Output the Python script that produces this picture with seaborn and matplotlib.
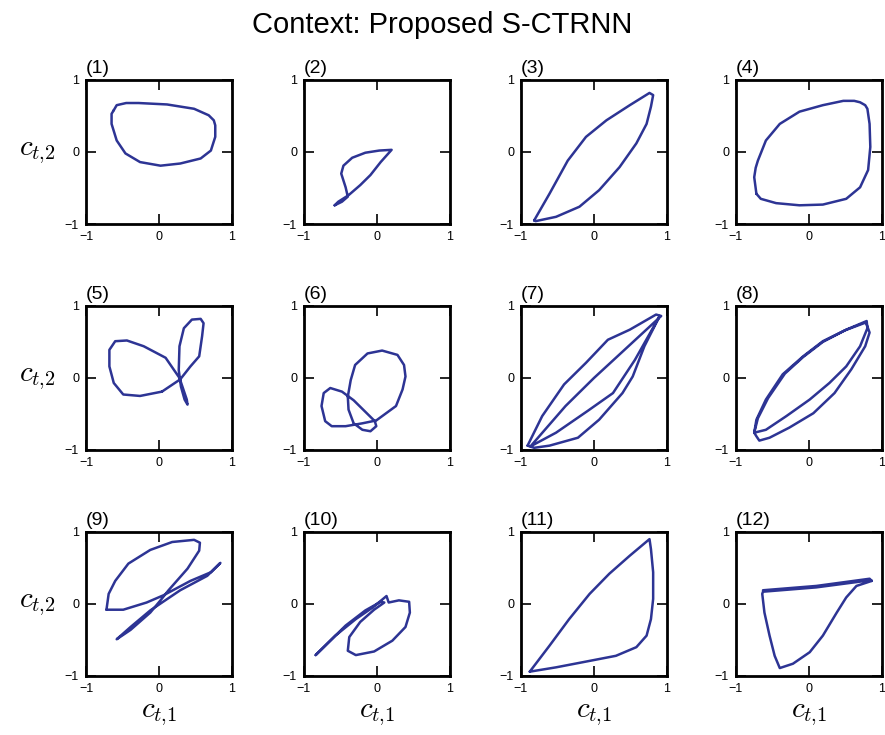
import numpy as np
import pandas as pd
import matplotlib
matplotlib.use("Agg")
import matplotlib.pyplot as plt
import seaborn as sns

sns.set_style("ticks")
plt.rcParams["font.family"] = ["Liberation Sans", "DejaVu Sans"]
plt.rcParams["mathtext.fontset"] = "cm"
for key in ["text.color", "axes.labelcolor", "xtick.color", "ytick.color", "axes.edgecolor"]:
    plt.rcParams[key] = "black"

LINE_COLOR = "#2d3494"

# Context trajectories (c_t1, c_t2) for each of the twelve sequences
p1_x = [-0.62, -0.58, -0.45, -0.28, 0.11, 0.48, 0.68, 0.75, 0.77, 0.77, 0.71, 0.57, 0.29, 0.02, -0.26, -0.46, -0.58, -0.65, -0.65, -0.62]
p1_y = [0.58, 0.65, 0.68, 0.68, 0.66, 0.60, 0.51, 0.44, 0.37, 0.21, 0.02, -0.09, -0.16, -0.19, -0.14, -0.02, 0.16, 0.39, 0.53, 0.58]

p2_x = [-0.58, -0.48, -0.40, -0.43, -0.49, -0.46, -0.34, -0.16, 0.03, 0.20, 0.05, -0.09, -0.23, -0.39, -0.53, -0.58]
p2_y = [-0.74, -0.69, -0.62, -0.49, -0.30, -0.19, -0.08, -0.01, 0.02, 0.03, -0.14, -0.32, -0.46, -0.60, -0.69, -0.74]

p3_x = [-0.82, -0.61, -0.36, -0.11, 0.17, 0.49, 0.76, 0.81, 0.78, 0.72, 0.58, 0.35, 0.07, -0.20, -0.52, -0.80, -0.82]
p3_y = [-0.95, -0.58, -0.12, 0.21, 0.44, 0.65, 0.82, 0.79, 0.63, 0.39, 0.12, -0.21, -0.53, -0.76, -0.90, -0.96, -0.95]

p4_x = [-0.72, -0.75, -0.73, -0.70, -0.59, -0.40, -0.13, 0.19, 0.47, 0.62, 0.70, 0.77, 0.80, 0.83, 0.84, 0.81, 0.70, 0.51, 0.19, -0.13, -0.45, -0.66, -0.72]
p4_y = [-0.58, -0.35, -0.22, -0.12, 0.16, 0.39, 0.56, 0.65, 0.71, 0.71, 0.69, 0.65, 0.60, 0.39, 0.07, -0.25, -0.49, -0.65, -0.73, -0.74, -0.71, -0.65, -0.58]

p5_x = [0.04, 0.29, 0.43, 0.55, 0.59, 0.61, 0.57, 0.45, 0.34, 0.28, 0.27, 0.30, 0.35, 0.39, 0.38, 0.32, 0.28, 0.09, -0.21, -0.44, -0.60, -0.68, -0.68, -0.62, -0.49, -0.26, 0.04]
p5_y = [-0.19, -0.02, 0.16, 0.30, 0.58, 0.76, 0.82, 0.81, 0.69, 0.44, 0.11, -0.12, -0.30, -0.37, -0.30, -0.12, 0.00, 0.28, 0.44, 0.52, 0.51, 0.39, 0.16, -0.07, -0.23, -0.25, -0.19]

p6_x = [-0.40, -0.39, -0.32, -0.20, -0.09, -0.01, -0.03, -0.16, -0.32, -0.48, -0.64, -0.73, -0.76, -0.71, -0.62, -0.43, -0.20, -0.01, 0.26, 0.35, 0.39, 0.37, 0.28, 0.07, -0.13, -0.30, -0.36, -0.40]
p6_y = [-0.26, -0.44, -0.63, -0.72, -0.74, -0.67, -0.60, -0.47, -0.31, -0.19, -0.14, -0.21, -0.39, -0.60, -0.67, -0.67, -0.63, -0.59, -0.39, -0.16, 0.02, 0.18, 0.32, 0.38, 0.34, 0.18, -0.03, -0.26]

p7_x = [-0.91, -0.71, -0.41, -0.11, 0.19, 0.49, 0.85, 0.92, 0.30, 0.00, -0.39, -0.87, -0.52, -0.09, 0.26, 0.56, 0.90, 0.69, 0.53, 0.39, 0.07, -0.22, -0.61, -0.82, -0.91]
p7_y = [-0.94, -0.53, -0.09, 0.21, 0.53, 0.67, 0.88, 0.86, 0.28, 0.00, -0.39, -0.95, -0.76, -0.46, -0.21, 0.25, 0.86, 0.44, 0.02, -0.21, -0.58, -0.83, -0.94, -0.97, -0.94]

p8_x = [-0.75, -0.70, -0.56, -0.33, -0.08, 0.19, 0.51, 0.79, 0.80, 0.70, 0.51, 0.28, 0.01, -0.31, -0.59, -0.75,
        -0.72, -0.59, -0.36, -0.08, 0.19, 0.49, 0.78, 0.83, 0.77, 0.58, 0.35, 0.06, -0.27, -0.54, -0.68, -0.72, -0.75]
p8_y = [-0.76, -0.56, -0.28, 0.06, 0.29, 0.50, 0.67, 0.79, 0.69, 0.44, 0.16, -0.07, -0.30, -0.53, -0.72, -0.76,
        -0.58, -0.30, 0.05, 0.30, 0.51, 0.66, 0.77, 0.63, 0.44, 0.12, -0.21, -0.49, -0.69, -0.83, -0.87, -0.81, -0.76]

p9_x = [-0.72, -0.49, -0.17, 0.06, 0.43, 0.71, 0.84, 0.66, 0.29, -0.12, -0.39, -0.58, -0.39, -0.12, 0.02, 0.13, 0.39, 0.55, 0.56, 0.48, 0.18, -0.12, -0.42, -0.60, -0.69, -0.72]
p9_y = [-0.08, -0.08, 0.02, 0.12, 0.32, 0.44, 0.57, 0.39, 0.19, -0.09, -0.32, -0.49, -0.36, -0.12, 0.05, 0.19, 0.49, 0.74, 0.85, 0.89, 0.86, 0.75, 0.56, 0.32, 0.14, -0.08]

p10_x = [-0.84, -0.57, -0.29, -0.06, 0.13, 0.16, 0.30, 0.44, 0.45, 0.39, 0.21, -0.04, -0.29, -0.40, -0.38, -0.23, -0.04, 0.10, 0.05, -0.16, -0.43, -0.66, -0.84]
p10_y = [-0.71, -0.44, -0.21, -0.05, 0.11, 0.02, 0.05, 0.03, -0.12, -0.32, -0.51, -0.66, -0.71, -0.65, -0.46, -0.25, -0.08, 0.02, 0.03, -0.09, -0.30, -0.53, -0.71]

p11_x = [-0.88, -0.61, -0.34, -0.06, 0.21, 0.49, 0.76, 0.78, 0.81, 0.81, 0.78, 0.72, 0.58, 0.30, -0.16, -0.52, -0.88]
p11_y = [-0.94, -0.58, -0.21, 0.14, 0.42, 0.67, 0.90, 0.76, 0.44, 0.07, -0.21, -0.44, -0.60, -0.72, -0.81, -0.88, -0.94]

p12_x = [-0.63, 0.10, 0.83, 0.86, 0.65, 0.51, 0.38, 0.19, 0.01, -0.22, -0.40, -0.47, -0.54, -0.61, -0.64, -0.63,
         0.10, 0.85, 0.86]
p12_y = [0.19, 0.25, 0.35, 0.32, 0.25, 0.09, -0.12, -0.44, -0.67, -0.83, -0.89, -0.72, -0.44, -0.12, 0.14, 0.17,
         0.23, 0.33, 0.32]

trajectories = [(p1_x, p1_y), (p2_x, p2_y), (p3_x, p3_y), (p4_x, p4_y),
                (p5_x, p5_y), (p6_x, p6_y), (p7_x, p7_y), (p8_x, p8_y),
                (p9_x, p9_y), (p10_x, p10_y), (p11_x, p11_y), (p12_x, p12_y)]
panel_labels = [f"({i})" for i in range(1, 13)]
tick_values = [-1, 0, 1]
tick_labels = ["\u22121", "0", "1"]

fig = plt.figure(figsize=(8.85, 7.35), dpi=100)
fig.patch.set_facecolor("white")

col_left = [0.0972, 0.3435, 0.5887, 0.8316]
row_bottom = [0.6952, 0.3878, 0.0803]
ax_w, ax_h = 0.165, 0.196

for idx, ((xs, ys), label) in enumerate(zip(trajectories, panel_labels)):
    r, c = divmod(idx, 4)
    ax = fig.add_axes([col_left[c], row_bottom[r], ax_w, ax_h])
    df = pd.DataFrame({"c1": xs, "c2": ys, "step": np.arange(len(xs))})
    sns.lineplot(data=df, x="c1", y="c2", sort=False, estimator=None,
                 color=LINE_COLOR, lw=1.8, ax=ax)
    ax.set_xlim(-1, 1)
    ax.set_ylim(-1, 1)
    ax.set_xticks(tick_values)
    ax.set_yticks(tick_values)
    ax.set_xticklabels(tick_labels)
    ax.set_yticklabels(tick_labels)
    ax.tick_params(direction="in", length=7, width=1.2, top=True, right=True,
                   labelsize=9, pad=5, color="black", labelcolor="black")
    for sp in ax.spines.values():
        sp.set_linewidth(2.0)
        sp.set_color("black")
    ax.set_title(label, loc="left", fontsize=14, pad=5, color="black")
    ax.set_xlabel("")
    ax.set_ylabel("")
    if c == 0:
        ax.set_ylabel(r"$c_{t{,}2}$", fontsize=21, rotation=0, ha="center", va="center")
        ax.yaxis.set_label_coords(-0.33, 0.5)
    if r == 2:
        ax.set_xlabel(r"$c_{t{,}1}$", fontsize=21)
        ax.xaxis.set_label_coords(0.5, -0.17)

fig.suptitle("Context: Proposed S-CTRNN", fontsize=21, y=0.985, color="black")
fig.savefig("out.png", dpi=100, facecolor="white")
